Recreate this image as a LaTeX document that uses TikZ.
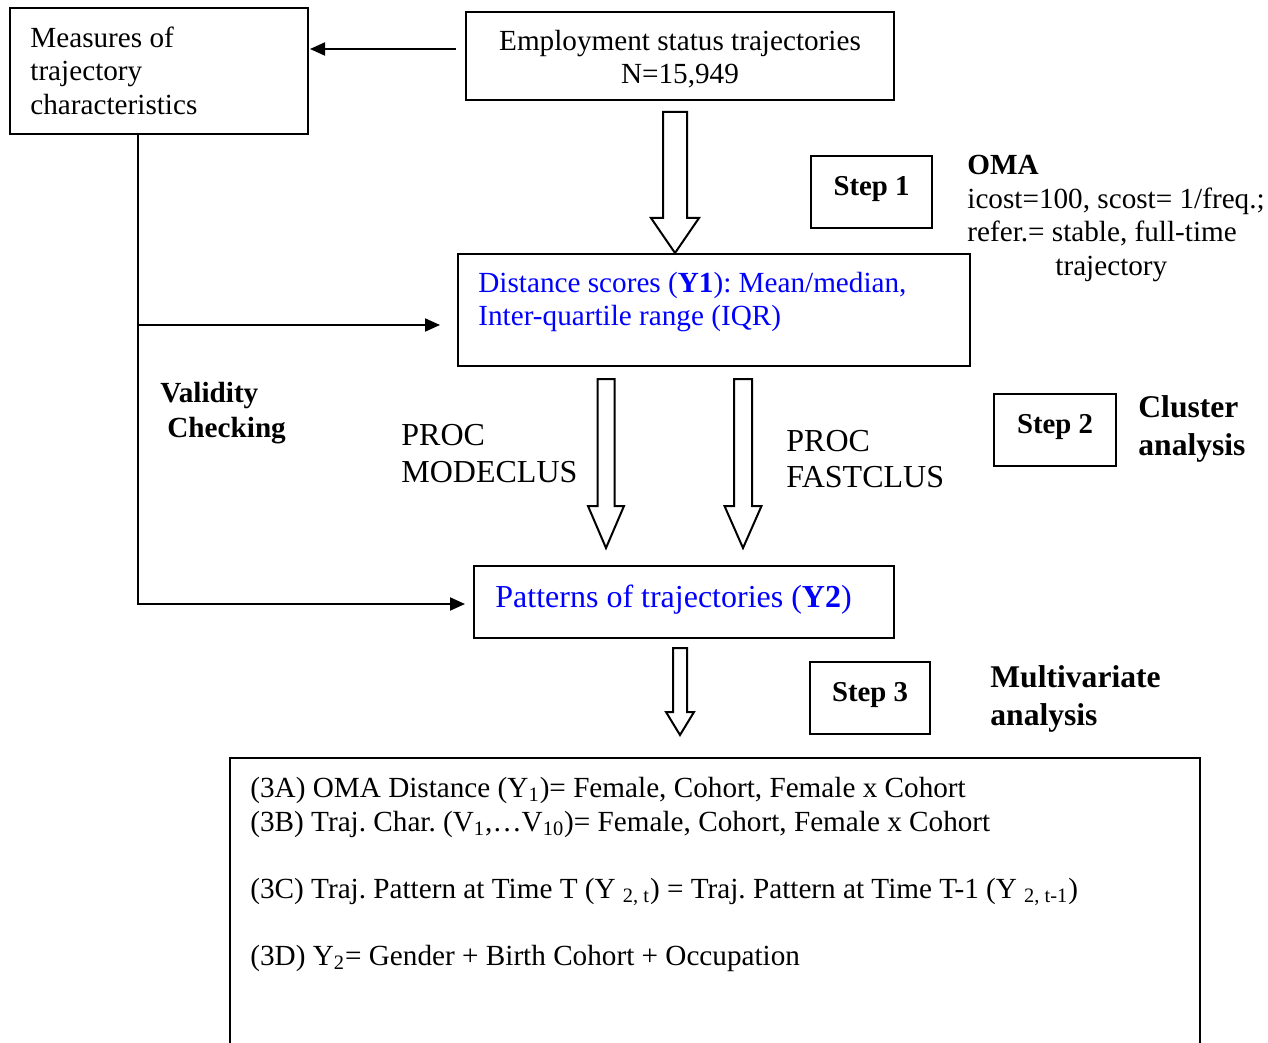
\documentclass[tikz,border=0pt]{standalone}
\usepackage{fontspec}
\setmainfont{Liberation Serif}
\usetikzlibrary{arrows.meta}
\frenchspacing

\tikzset{
    box/.style={draw, line width=1pt, inner sep=0pt},
    txt/.style={inner sep=0pt, align=left, font=\fontsize{14.6}{16.75}\selectfont},
    big/.style={inner sep=0pt, align=left, font=\fontsize{15.8}{19}\selectfont\bfseries},
    conn/.style={line width=1pt, -{Triangle[length=7.5pt, width=6.5pt]}},
    hollow/.style={draw, line width=1pt, fill=white, line join=miter}
}

\begin{document}
\begin{tikzpicture}[x=0.5pt, y=-0.5pt]
    \useasboundingbox (0, 0) rectangle (1268, 1043);
    % boxes
    \node[box, minimum width=149pt, minimum height=63pt] (measures) at (159, 71) {};
    \node[box, minimum width=214pt, minimum height=44pt] (employ) at (680, 56) {};
    \node[box, minimum width=256pt, minimum height=56pt] (dist) at (714, 310) {};
    \node[box, minimum width=60.5pt, minimum height=36pt] (step1) at (871.5, 192) {};
    \node[box, minimum width=61pt, minimum height=36pt] (step2) at (1055, 430) {};
    \node[box, minimum width=210pt, minimum height=36pt] (patterns) at (684, 602) {};
    \node[box, minimum width=60pt, minimum height=36pt] (step3) at (870, 698) {};
    \draw[line width=1pt] (230, 1060) -- (230, 758) -- (1200, 758) -- (1200, 1060);
    % texts in boxes
    \node[txt, anchor=west] (measurestext) at (30, 70.5) {Measures of\\trajectory\\characteristics};
    \node[txt, align=center] (employtext) at (680, 59) {Employment status trajectories\\N=15,949};
    \node[txt, anchor=west, text=blue] (disttext) at (478, 302) {Distance scores (\textbf{Y1}): Mean/median,\\Inter-quartile range (IQR)};
    \node[txt, font=\fontsize{16}{18}\selectfont, anchor=west, text=blue] (patternstext) at (495, 600) {Patterns of trajectories (\textbf{Y2})};
    \foreach \n/\s in {step1/1, step2/2, step3/3} {
        \node[txt, font=\fontsize{14.4}{17}\selectfont\bfseries] (\n text) at ([yshift=1.5pt]\n) {Step \s};
    }
    % side labels
    \node[txt, anchor=west] (omatext) at (967, 218.5) {\textbf{OMA}\\icost=100, scost= 1/freq.;\\refer.= stable, full-time\\\hspace*{44pt}trajectory};
    \node[big, anchor=west] (clustertext) at (1138, 429) {Cluster\\analysis};
    \node[big, anchor=west] (multitext) at (990, 698.5) {Multivariate\\analysis};
    \node[txt, font=\fontsize{14.6}{17.5}\selectfont\bfseries, anchor=west] (validtext) at (160, 413.5) {Validity\\\hspace*{3.5pt}Checking};
    \node[txt, font=\fontsize{16}{18.5}\selectfont, anchor=west] (modeclus) at (401, 453.5) {PROC\\MODECLUS};
    \node[txt, font=\fontsize{16}{18}\selectfont, anchor=west] (fastclus) at (786, 459) {PROC\\FASTCLUS};
    % models
    \node[txt, anchor=north west] (modeltext) at (250, 777) {%
        (3A) OMA Distance (Y\textsubscript{1})= Female, Cohort, Female x Cohort\\
        (3B) Traj. Char. (V\textsubscript{1},…V\textsubscript{10})= Female, Cohort, Female x Cohort\\[16.75pt]
        (3C) Traj. Pattern at Time T (Y \textsubscript{2, t}) = Traj. Pattern at Time T-1 (Y \textsubscript{2, t-1})\\[16.75pt]
        (3D) Y\textsubscript{2}= Gender + Birth Cohort + Occupation};
    % connectors
    \draw[conn] ([shift={(-9, -7)}]employ.west) -- ([shift={(1, -7)}]employ.west -| measures.east);
    \coordinate (branch) at ([xshift=-10.5pt]measures.south |- 0, 325);
    \draw[line width=1pt] ([xshift=-10.5pt]measures.south) -- (branch);
    \draw[conn] (branch) -- ([xshift=-8.5pt]dist.west |- branch);
    \draw[conn] (branch) |- ([shift={(-8, 2)}]patterns.west);
    % hollow arrows
    \foreach \cx/\ya/\yb/\yc/\sw/\hw in {
        675/112/218/253/12/24,
        606/379/506/548/8.5/18,
        743/379/506/548/9/18.5,
        680/648/712/735/7/14
    } {
        \draw[hollow] (\cx-\sw, \ya) -- (\cx+\sw, \ya) -- (\cx+\sw, \yb) -- (\cx+\hw, \yb)
            -- (\cx, \yc) -- (\cx-\hw, \yb) -- (\cx-\sw, \yb) -- cycle;
    }
\end{tikzpicture}
\end{document}
